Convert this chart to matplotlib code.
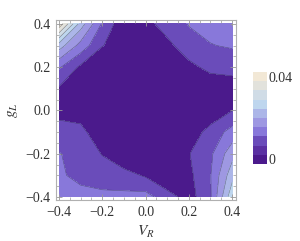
import numpy as np
import matplotlib
matplotlib.use("Agg")
import matplotlib.pyplot as plt
from matplotlib.colors import ListedColormap, BoundaryNorm
from matplotlib.cm import ScalarMappable
from matplotlib.ticker import MultipleLocator

plt.rcParams['font.family'] = 'Liberation Serif'
plt.rcParams['mathtext.fontset'] = 'stix'

# grid of V_R (columns) and g_L (rows, top row is g_L = 0.4)
vr = [-0.4, -0.3, -0.2, -0.1, 0.0, 0.1, 0.2, 0.3, 0.4]
gl = [0.4, 0.3, 0.2, 0.1, 0.0, -0.1, -0.2, -0.3, -0.4]
z_rows = [
    [0.039, 0.022, 0.0115, 0.005, 0.0065, 0.0100, 0.0122, 0.0135, 0.0142],
    [0.022, 0.0145, 0.0082, 0.0055, 0.003, 0.0068, 0.0105, 0.0118, 0.0125],
    [0.0125, 0.0072, 0.004, 0.002, 0.002, 0.003, 0.0068, 0.0092, 0.0090],
    [0.0075, 0.004, 0.002, 0.0015, 0.0015, 0.002, 0.003, 0.005, 0.0065],
    [0.0068, 0.006, 0.003, 0.0015, 0.0015, 0.002, 0.003, 0.005, 0.0079],
    [0.0095, 0.0092, 0.005, 0.002, 0.0015, 0.002, 0.0055, 0.0095, 0.0135],
    [0.0122, 0.0105, 0.0078, 0.0045, 0.003, 0.003, 0.0078, 0.0112, 0.0185],
    [0.0128, 0.0105, 0.0100, 0.0095, 0.0075, 0.004, 0.007, 0.0118, 0.0225],
    [0.0145, 0.0138, 0.0130, 0.0130, 0.0135, 0.0098, 0.0062, 0.0115, 0.027],
]

# legend bands (bottom to top)
band_colors = ['#4b1a8c', '#5a30a2', '#6a4cba', '#8878da', '#9e98e2',
               '#acb6e8', '#bed6ee', '#d0dce6', '#e2e2dc', '#f2e8d6']
band_edges = np.linspace(0, 0.04, 11)

# contour levels used in the plot region
levels = [0, 0.008, 0.012, 0.016, 0.020, 0.024, 0.028, 0.032, 0.036, 0.04]
fill_colors = [band_colors[0]] + band_colors[2:]

x = np.array(vr)
y = np.array(gl)[::-1]
z = np.array(z_rows)[::-1]

fig = plt.figure(figsize=(3.0, 2.41), dpi=100)
ax = fig.add_axes([56/300, 41/241, 180/300, 180/241])

ax.contourf(x, y, z, levels=levels, colors=fill_colors)
ax.contour(x, y, z, levels=levels[1:-1], colors='#2a2a3a', linewidths=0.4, alpha=0.55)

ax.set_xlim(-0.414, 0.418)
ax.set_ylim(-0.414, 0.418)
ax.set_xticks([-0.4, -0.2, 0.0, 0.2, 0.4])
ax.set_yticks([-0.4, -0.2, 0.0, 0.2, 0.4])
ax.set_xticklabels(['\u22120.4', '\u22120.2', '0.0', '0.2', '0.4'])
ax.set_yticklabels(['\u22120.4', '\u22120.2', '0.0', '0.2', '0.4'])
ax.xaxis.set_minor_locator(MultipleLocator(0.05))
ax.yaxis.set_minor_locator(MultipleLocator(0.05))
ax.tick_params(which='both', direction='in', top=True, right=True,
               color='#999999', labelsize=10, labelcolor='#333333', pad=4)
ax.tick_params(which='major', length=4, width=0.6)
ax.tick_params(which='minor', length=2, width=0.5)
for s in ax.spines.values():
    s.set_color('#b0b0b0')
    s.set_linewidth(0.8)

ax.set_xlabel('$V_R$', fontsize=11, color='#333333', labelpad=4)
ax.set_ylabel('$g_L$', fontsize=11, color='#333333', labelpad=4)

cax = fig.add_axes([253/300, 77/241, 14/300, 92/241])
sm = ScalarMappable(norm=BoundaryNorm(band_edges, 10), cmap=ListedColormap(band_colors))
cb = fig.colorbar(sm, cax=cax, ticks=[0.002, 0.038])
cb.ax.minorticks_off()
cb.ax.set_yticklabels(['0', '0.04'])
cb.ax.tick_params(length=0, labelsize=10, labelcolor='#333333', pad=1)
cb.outline.set_visible(False)

fig.savefig('out.png', dpi=100)
